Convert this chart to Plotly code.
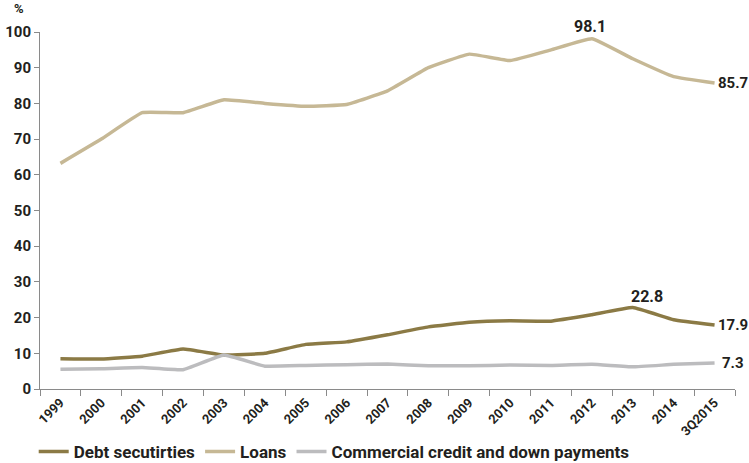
import plotly.graph_objects as go

years = ["1999", "2000", "2001", "2002", "2003", "2004", "2005", "2006", "2007",
         "2008", "2009", "2010", "2011", "2012", "2013", "2014", "3Q2015"]
debt = [8.5, 8.4, 9.2, 11.2, 9.5, 10.0, 12.5, 13.2, 15.2, 17.4, 18.7, 19.1, 19.0,
        20.8, 22.8, 19.4, 17.9]
loans = [63.2, 70.0, 77.4, 77.4, 81.0, 80.0, 79.2, 79.7, 83.5, 90.0, 93.8, 92.0,
         95.0, 98.1, 92.5, 87.5, 85.7]
commercial = [5.5, 5.7, 6.0, 5.4, 9.5, 6.4, 6.6, 6.8, 7.0, 6.5, 6.5, 6.7, 6.6,
              6.9, 6.2, 6.9, 7.3]

c_debt = "#8b7a45"
c_loans = "#c6b895"
c_comm = "#bcbcbe"
txt = "#231f20"
axis_col = "#8a8a8a"
font_family = "Roboto, Arial, sans-serif"

fig = go.Figure()
for name, vals, col in [("Debt secutirties", debt, c_debt),
                        ("Loans", loans, c_loans),
                        ("Commercial credit and down payments", commercial, c_comm)]:
    fig.add_trace(go.Scatter(x=years, y=vals, name=f"<b>{name}</b>", mode="lines",
                             line=dict(color=col, width=3.5, shape="spline", smoothing=0.3)))


def label(series, idx, text, xanchor, yanchor, xshift=0, yshift=0, size=16):
    # category index keeps year-like labels from being read as numbers
    fig.add_annotation(x=idx, y=series[idx], text=f"<b>{text}</b>", showarrow=False,
                       xanchor=xanchor, yanchor=yanchor, xshift=xshift, yshift=yshift,
                       font=dict(size=size, color=txt, family=font_family))


label(loans, 13, "98.1", "center", "bottom", -2, 1)
label(loans, 16, "85.7", "left", "middle", 1, 0, 15)
label(debt, 14, "22.8", "left", "bottom", -4, 0)
label(debt, 16, "17.9", "left", "middle", 1, 0, 15)
label(commercial, 16, "7.3", "left", "middle", 5, 0, 15)

fig.add_annotation(xref="paper", yref="paper", x=-0.03, y=1.04, xanchor="center",
                   yanchor="bottom", text="<b>%</b>", showarrow=False,
                   font=dict(size=13, color=txt, family=font_family))

fig.update_layout(
    width=749, height=463,
    margin=dict(l=40, r=14, t=32, b=74, autoexpand=False),
    plot_bgcolor="white", paper_bgcolor="white",
    font=dict(family=font_family, color=txt),
    showlegend=True,
    legend=dict(orientation="h", xref="container", yref="container",
                x=0.045, xanchor="left", y=0.024, yanchor="middle",
                font=dict(size=17, color=txt, family=font_family),
                itemwidth=30, tracegroupgap=0),
    xaxis=dict(type="category", tickson="boundaries", ticks="outside", ticklen=6,
               tickcolor=axis_col, showline=True, linecolor=axis_col, linewidth=1,
               showgrid=False, tickangle=-45, automargin=False,
               tickprefix="<b>", ticksuffix="</b>",
               tickfont=dict(size=13, color=txt, family=font_family),
               range=[-0.5, 16.5]),
    yaxis=dict(range=[0, 100], dtick=10, ticks="outside", ticklen=5, tickcolor=axis_col,
               showline=True, linecolor=axis_col, linewidth=1, showgrid=False,
               zeroline=False, automargin=False,
               tickprefix="<b>", ticksuffix="</b>",
               tickfont=dict(size=15, color=txt, family=font_family)),
)

fig.write_html("out.html")
